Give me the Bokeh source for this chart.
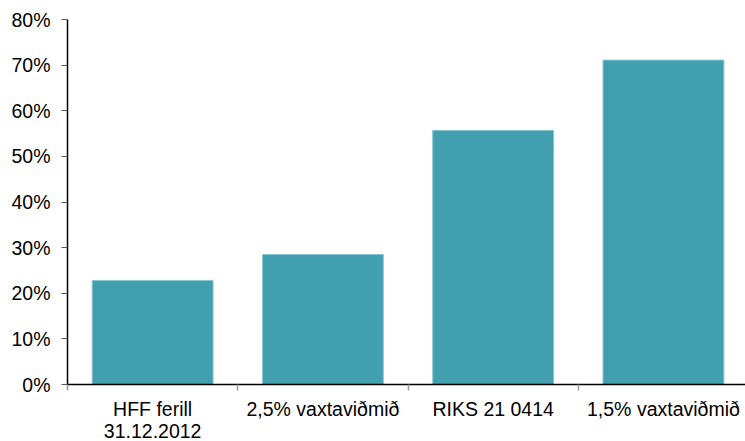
from bokeh.plotting import figure
from bokeh.models import Range1d, FixedTicker, LinearAxis
from bokeh.embed import file_html
from bokeh.resources import INLINE

categories = ["HFF ferill\n31.12.2012", "2,5% vaxtaviðmið", "RIKS 21 0414", "1,5% vaxtaviðmið"]
values = [22.8, 28.5, 55.7, 71.1]
y_ticks = [0, 10, 20, 30, 40, 50, 60, 70, 80]
y_tick_labels = ["0%", "10%", "20%", "30%", "40%", "50%", "60%", "70%", "80%"]

positions = [i + 0.5 for i in range(len(categories))]
boundaries = [float(i) for i in range(len(categories) + 1)]

p = figure(width=745, height=444, output_backend="svg", toolbar_location=None,
           x_range=Range1d(0, 3.982), y_range=Range1d(0, 80),
           x_axis_type=None, y_axis_type=None,
           min_border_left=67, min_border_right=0, min_border_top=19, min_border_bottom=50)
p.outline_line_color = None
p.xgrid.visible = False
p.ygrid.visible = False

p.vbar(x=positions, top=values, width=0.71, bottom=0,
       fill_color="#419FB0", line_color="#8cc6d0", line_width=1)

font = "Liberation Sans"
fs = "19.5px"

yax = LinearAxis(ticker=FixedTicker(ticks=y_ticks, minor_ticks=[]))
yax.major_label_overrides = {t: l for t, l in zip(y_ticks, y_tick_labels)}
yax.axis_line_color = "black"
yax.axis_line_width = 1.5
yax.major_tick_in = 0
yax.major_tick_out = 6
yax.major_tick_line_color = "#555555"
yax.minor_tick_line_color = None
yax.major_label_standoff = 11
yax.major_label_text_font = font
yax.major_label_text_font_size = fs
yax.major_label_text_color = "black"
p.add_layout(yax, "left")

xax = LinearAxis(ticker=FixedTicker(ticks=positions, minor_ticks=boundaries))
xax.major_label_overrides = {pos: c for pos, c in zip(positions, categories)}
xax.axis_line_color = "black"
xax.axis_line_width = 1.5
xax.major_tick_in = 0
xax.major_tick_out = 0
xax.minor_tick_in = 0
xax.minor_tick_out = 6
xax.minor_tick_line_color = "#999999"
xax.minor_tick_line_width = 1.5
xax.major_label_standoff = 7
xax.major_label_text_font = font
xax.major_label_text_font_size = fs
xax.major_label_text_line_height = 1.0
xax.major_label_text_color = "black"
p.add_layout(xax, "below")

open("out.html", "w").write(file_html(p, INLINE))
